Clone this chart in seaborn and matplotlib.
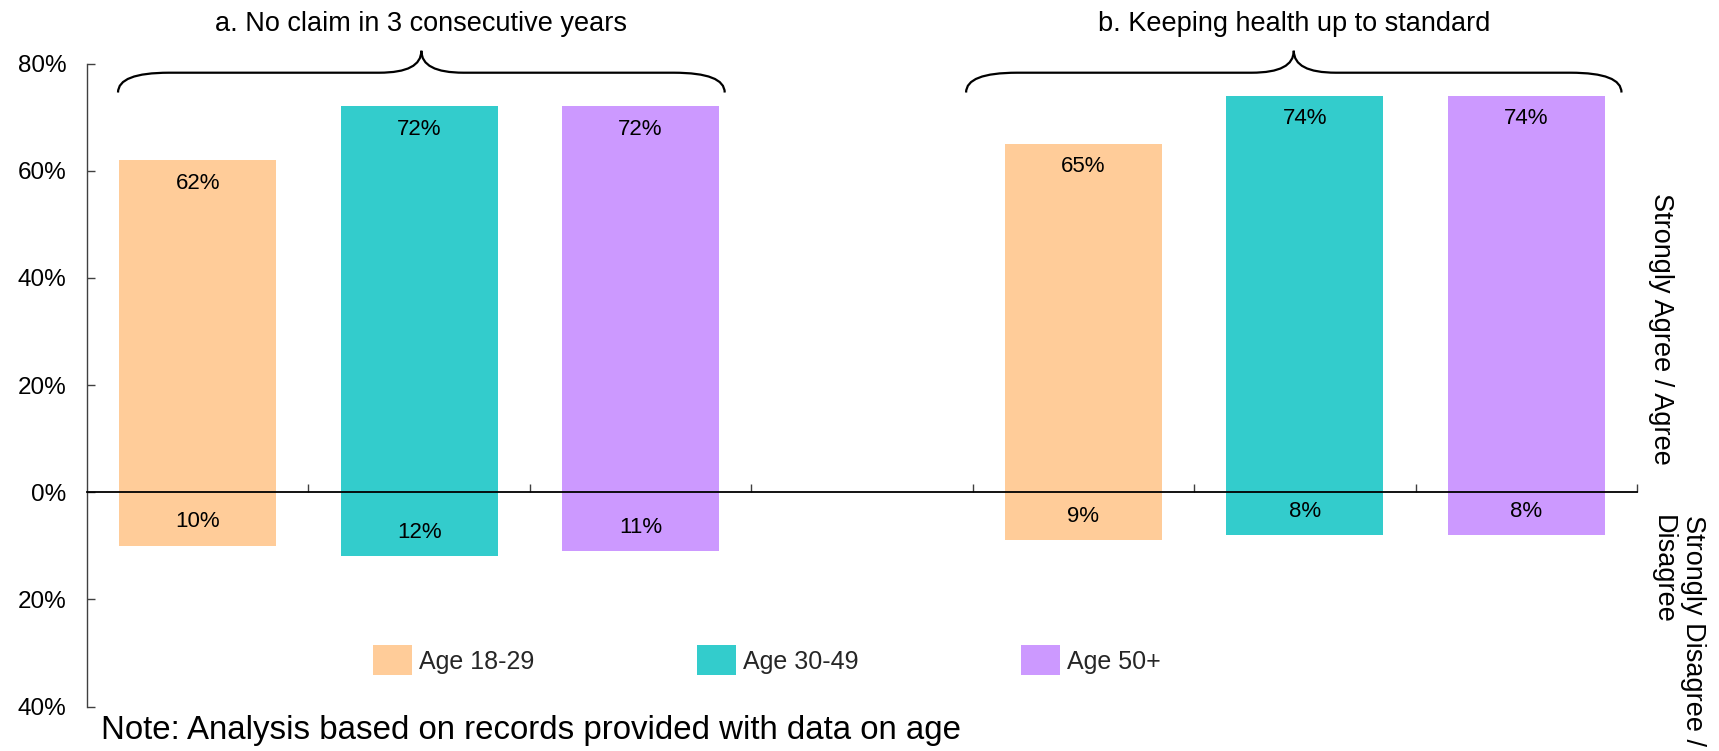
import matplotlib
matplotlib.use("Agg")
import matplotlib.pyplot as plt
import numpy as np
import pandas as pd
import seaborn as sns
from matplotlib.path import Path
from matplotlib.patches import PathPatch

# ---- data -------------------------------------------------------------
group_keys = ["a", "b"]
group_titles = ["a. No claim in 3 consecutive years",
                "b. Keeping health up to standard"]
age_groups = ["Age 18-29", "Age 30-49", "Age 50+"]
agree_a = [62, 72, 72]        # Strongly Agree / Agree (%)
agree_b = [65, 74, 74]
disagree_a = [10, 12, 11]     # Strongly Disagree / Disagree (%)
disagree_b = [9, 8, 8]
palette = ["#FFCC99", "#33CCCC", "#CC99FF"]
y_ticks = [-40, -20, 0, 20, 40, 60, 80]
side_agree = "Strongly Agree / Agree"
side_disagree = "Strongly Disagree /\nDisagree"
note_text = "Note: Analysis based on records provided with data on age"

# brace extents (x in category units) for each question block
brace_spans = [(-0.36, 2.38), (3.47, 6.43)]

# ---- tidy frame -------------------------------------------------------
rows = []
for g, agree, dis in zip(group_keys, [agree_a, agree_b], [disagree_a, disagree_b]):
    for age, v_ag, v_dis in zip(age_groups, agree, dis):
        rows.append({"slot": f"{g}|{age}", "age": age,
                     "agree": v_ag, "disagree": -v_dis})
df = pd.DataFrame(rows)
order = [f"a|{a}" for a in age_groups] + ["gap"] + [f"b|{a}" for a in age_groups]

# ---- figure -----------------------------------------------------------
sns.set_theme(style="white")
plt.rcParams["font.family"] = ["Liberation Sans", "DejaVu Sans"]

W, H, DPI = 1719, 751, 100
fig = plt.figure(figsize=(W / DPI, H / DPI), dpi=DPI)
ax = fig.add_axes([87 / W, 1 - 706.5 / H, (1637 - 87) / W, (706.5 - 63.6) / H])

common = dict(data=df, x="slot", hue="age", order=order, hue_order=age_groups,
              palette=palette, dodge=False, width=0.71, saturation=1,
              errorbar=None, legend=False, linewidth=0, ax=ax)
sns.barplot(y="agree", **common)
sns.barplot(y="disagree", **common)

# value labels inside the bar ends
for p in ax.patches:
    h = p.get_height()
    if not np.isfinite(h) or h == 0:
        continue
    xc = p.get_x() + p.get_width() / 2
    off = -23 if h > 0 else 24
    ax.annotate(f"{abs(h):.0f}%", xy=(xc, h), xytext=(0, off),
                textcoords="offset pixels", ha="center", va="center",
                fontsize=16, color="black")

# axes styling
ax.set_xlim(-0.5, 6.5)
ax.set_ylim(-40, 80)
ax.set_yticks(y_ticks)
ax.set_yticklabels([f"{abs(t)}%" for t in y_ticks])
ax.set_xticks(np.arange(0.5, 7, 1.0))
ax.set_xticklabels([])
ax.set_xlabel("")
ax.set_ylabel("")
for s in ["top", "right"]:
    ax.spines[s].set_visible(False)
ax.spines["bottom"].set_position(("data", 0))
ax.spines["bottom"].set_color("black")
ax.spines["bottom"].set_linewidth(1.3)
ax.spines["left"].set_color("#404040")
ax.spines["left"].set_linewidth(1.0)
ax.tick_params(axis="y", direction="in", length=6, width=1.0, color="#404040",
               pad=15, labelsize=17.5, labelcolor="black", left=True)
ax.tick_params(axis="x", direction="in", length=6, width=1.0, color="#404040",
               bottom=True)
ax.grid(False)


# curly braces above each block, with the block title above
def draw_brace(ax, x0, x1, y_tip=74.6, y_flat=78.3, y_peak=82.4, r=0.23, rc=0.19):
    xc = (x0 + x1) / 2
    verts = [(x0, y_tip), (x0, y_flat), (x0 + r, y_flat),
             (xc - rc, y_flat),
             (xc, y_flat), (xc, y_peak),
             (xc, y_flat), (xc + rc, y_flat),
             (x1 - r, y_flat),
             (x1, y_flat), (x1, y_tip)]
    codes = [Path.MOVETO, Path.CURVE3, Path.CURVE3,
             Path.LINETO,
             Path.CURVE3, Path.CURVE3,
             Path.CURVE3, Path.CURVE3,
             Path.LINETO,
             Path.CURVE3, Path.CURVE3]
    ax.add_patch(PathPatch(Path(verts, codes), fill=False, lw=1.6,
                           edgecolor="black", clip_on=False))
    return xc


for (x0, x1), title in zip(brace_spans, group_titles):
    xc = draw_brace(ax, x0, x1)
    ax.text(xc, 87.4, title, ha="center", va="center", fontsize=19.5,
            color="black", clip_on=False)

# legend row
handles = [plt.Rectangle((0, 0), 1, 1, facecolor=c, edgecolor="none") for c in palette]
fig.legend(handles, age_groups, loc="center left",
           bbox_to_anchor=(373 / W, 1 - 660.3 / H), bbox_transform=fig.transFigure,
           ncol=3, frameon=False, fontsize=18, borderpad=0, borderaxespad=0,
           handlelength=1.56, handleheight=1.47, handletextpad=0.28,
           columnspacing=6.5)

# side captions
fig.text(1661 / W, 1 - 329 / H, side_agree, rotation=270, ha="center",
         va="center", fontsize=19.5, color="black")
fig.text(1678 / W, 1 - 515 / H, side_disagree, rotation=270, ha="center",
         va="top", fontsize=19.5, color="black", multialignment="left",
         linespacing=1.2)

# footnote
fig.text(101 / W, 1 - 731 / H, note_text, ha="left", va="center",
         fontsize=23.8, color="black")

fig.savefig("out.png", dpi=DPI)
